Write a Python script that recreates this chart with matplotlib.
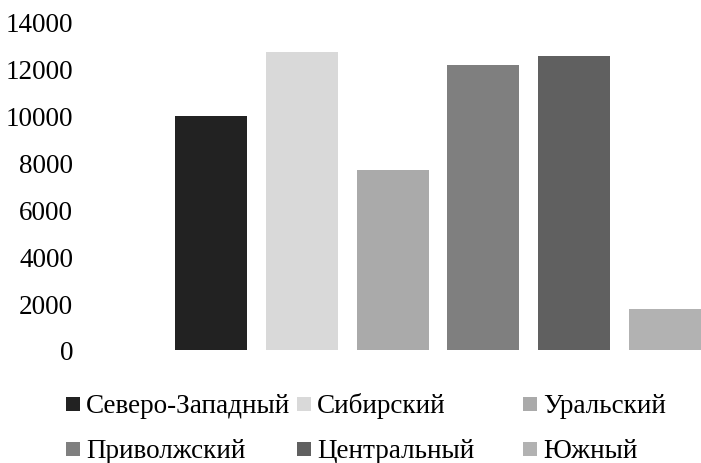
import matplotlib
matplotlib.use("Agg")
import matplotlib.pyplot as plt
from matplotlib.patches import Rectangle

categories = ["Северо-Западный", "Сибирский", "Уральский",
              "Приволжский", "Центральный", "Южный"]
values = [10000, 12730, 7700, 12180, 12560, 1760]
colors = ["#222222", "#d9d9d9", "#aaaaaa", "#7f7f7f", "#606060", "#b2b2b2"]
yticks = [0, 2000, 4000, 6000, 8000, 10000, 12000, 14000]

plt.rcParams['font.family'] = ['Liberation Serif', 'DejaVu Serif']
FS = 19.5

W, H = 701, 464
fig = plt.figure(figsize=(W / 100, H / 100), dpi=100)
ax = fig.add_axes([80 / W, (H - 351) / H, (W - 80) / W, (351 - 23) / H])

x = list(range(len(categories)))
ax.bar(x, values, width=0.793, color=colors)
ax.set_xlim(-1.4427, 5.3965)
ax.set_ylim(0, 14000)
ax.set_yticks(yticks)
ax.set_yticklabels([str(t) for t in yticks], fontsize=FS)
ax.set_xticks([])
ax.tick_params(axis='y', length=0, pad=5)
for s in ax.spines.values():
    s.set_visible(False)

# legend (Excel-style, fixed column positions)
col_x = [66, 297, 523]
base_y = [413, 458]
for i, (name, c) in enumerate(zip(categories, colors)):
    r, k = divmod(i, 3)
    mx = col_x[k]
    by = base_y[r]
    fig.add_artist(Rectangle((mx / W, (H - by + 1) / H), 14 / W, 14 / H,
                             transform=fig.transFigure, color=c, lw=0))
    fig.text((mx + 20) / W, (H - by) / H, name, fontsize=FS,
             ha='left', va='baseline')

fig.savefig("out.png", dpi=100)
